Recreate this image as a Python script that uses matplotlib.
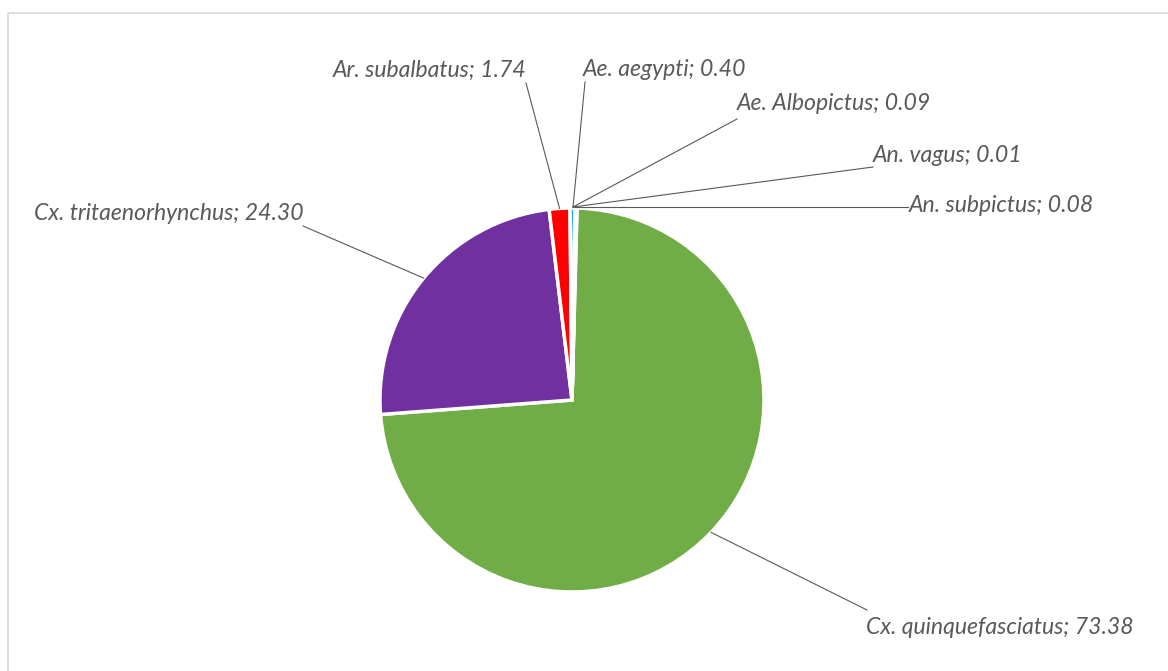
import numpy as np
import matplotlib.pyplot as plt
from matplotlib.patches import Rectangle

species = ["Cx. quinquefasciatus", "Cx. tritaenorhynchus", "Ar. subalbatus",
           "Ae. aegypti", "Ae. Albopictus", "An. vagus", "An. subpictus"]
percent = [73.38, 24.30, 1.74, 0.40, 0.09, 0.01, 0.08]
colors = ["#70AD47", "#7030A0", "#FF0000", "#00B0F0", "#FFC000", "#4472C4", "#A5A5A5"]

# label layout in image pixels: (leader end, text anchor, ha)
W, H = 1168, 671
CX, CY, R = 572, 400, 192
label_layout = [
    ((867, 610), (866, 627), "left"),
    ((303, 226), (304, 213), "right"),
    ((526, 83), (527, 70), "right"),
    ((585, 82), (583, 70), "left"),
    ((737, 119), (737, 104), "left"),
    ((873, 167), (873, 155), "left"),
    ((908, 207), (909, 206), "left"),
]


def px(x, y):
    return (x - CX) / R, (CY - y) / R


fig = plt.figure(figsize=(W / 100, H / 100), dpi=100)
ax = fig.add_axes([0, 0, 1, 1])

wedges, _ = ax.pie(percent, colors=colors, startangle=88.5, counterclock=False, radius=1,
                   wedgeprops=dict(edgecolor="white", linewidth=2.5))
ax.set_xlim(-CX / R, (W - CX) / R)
ax.set_ylim(-(H - CY) / R, CY / R)
ax.set_aspect("auto")
ax.axis("off")

fig.patches.append(Rectangle((8 / W, -0.1), 1.2, (H - 13) / H + 0.1, transform=fig.transFigure,
                             fill=False, edgecolor="#D9D9D9", linewidth=1.2))

for w, name, val, (end, txt, ha) in zip(wedges, species, percent, label_layout):
    ang = np.deg2rad((w.theta1 + w.theta2) / 2)
    x0, y0 = np.cos(ang), np.sin(ang)
    if val < 1:
        x0, y0 = px(573, 207)
    x1, y1 = px(*end)
    ax.plot([x0, x1], [y0, y1], color="#595959", lw=0.8)
    tx, ty = px(*txt)
    ax.text(tx, ty, f"{name}; {val:.2f}", ha=ha, va="center", fontsize=16.6,
            family="Lato", style="italic", color="#595959")

fig.savefig("out.png", dpi=100)
